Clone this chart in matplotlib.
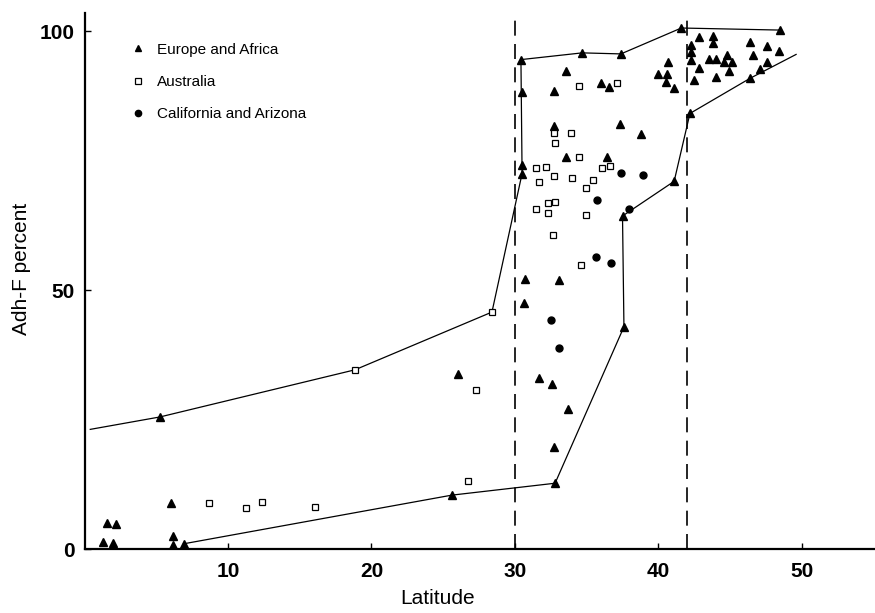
import matplotlib
matplotlib.use("Agg")
import matplotlib.pyplot as plt

plt.rcParams['font.family'] = ['Liberation Sans', 'DejaVu Sans']

# Europe and Africa (triangles)
eu_lat = [1.3, 2.0, 1.55, 2.2, 6.0, 6.15, 6.15, 6.9, 5.26,
          25.6, 26.0, 32.8, 31.67, 32.56, 33.7, 32.7, 30.7, 33.1, 30.65, 37.6, 37.5, 41.1,
          30.5, 30.5, 33.55, 36.4, 32.72, 37.3, 38.76, 30.47, 32.72, 35.99, 36.57, 33.55,
          30.42, 34.69, 37.39, 41.6, 40.64, 39.99, 40.57, 40.5, 41.1,
          48.5, 42.8, 43.8, 43.8, 42.25, 42.25, 42.25, 46.4, 47.6, 48.4, 46.6, 47.6, 47.1,
          46.4, 43.5, 44.0, 44.75, 44.6, 45.1, 42.8, 44.9, 42.5, 44.0, 42.2]
eu_pct = [1.4, 1.2, 5.1, 4.8, 8.9, 2.6, 0.8, 1.0, 25.5,
          10.4, 33.8, 12.7, 33.1, 31.9, 27.0, 19.7, 52.1, 51.9, 47.5, 42.9, 64.3, 71.0,
          72.5, 74.1, 75.7, 75.7, 81.7, 82.0, 80.1, 88.3, 88.4, 89.9, 89.3, 92.3,
          94.5, 95.8, 95.6, 100.6, 94.0, 91.7, 91.7, 90.2, 89.1,
          100.2, 98.8, 99.0, 97.7, 97.3, 96.0, 94.5, 97.9, 97.1, 96.2, 95.4, 94.1, 92.6,
          90.9, 94.7, 94.7, 95.4, 94.0, 94.0, 92.8, 92.3, 90.6, 91.1, 84.1]

# Australia (open squares)
au_lat = [8.7, 11.25, 12.4, 16.1, 18.85, 26.7, 27.3, 28.4,
          34.46, 37.1, 32.7, 32.8, 33.9, 34.5, 31.5, 32.2, 31.7, 32.7, 33.95, 36.1,
          36.6, 35.45, 34.95, 31.5, 32.3, 32.8, 32.3, 34.95, 32.67, 34.6]
au_pct = [8.8, 8.0, 9.1, 8.2, 34.6, 13.1, 30.7, 45.75,
          89.4, 89.9, 80.3, 78.4, 80.4, 75.7, 73.5, 73.8, 70.9, 72.1, 71.7, 73.6,
          74.0, 71.2, 69.8, 65.6, 66.9, 67.0, 64.8, 64.5, 60.6, 54.8]

# California and Arizona (filled circles)
ca_lat = [37.4, 38.9, 35.7, 37.94, 35.67, 36.67, 32.5, 33.1]
ca_pct = [72.7, 72.2, 67.4, 65.6, 56.4, 55.3, 44.3, 38.9]

# envelope lines
up_lat = [0.4, 5.26, 18.85, 28.4, 30.5, 30.42, 34.69, 37.39, 41.6, 48.5]
up_pct = [23.1, 25.5, 34.6, 45.75, 72.5, 94.5, 95.8, 95.6, 100.6, 100.2]
lo_lat = [6.9, 25.6, 32.8, 37.6, 37.5, 41.1, 42.2, 46.4, 49.6]
lo_pct = [1.0, 10.4, 12.7, 42.9, 64.3, 71.0, 84.1, 90.9, 95.5]

borders = [30, 42]

fig = plt.figure(figsize=(8.75, 6.13), dpi=100)
ax = fig.add_axes([0.0966, 0.1044, 0.9034, 0.8744])

ax.plot(up_lat, up_pct, color='black', lw=0.9, zorder=2)
ax.plot(lo_lat, lo_pct, color='black', lw=0.9, zorder=2)
for b in borders:
    ax.axvline(b, color='black', lw=1.2, ls=(0, (9, 5)), zorder=1)

ax.plot(eu_lat, eu_pct, ls='none', marker='^', ms=5.5, color='black',
        label='Europe and Africa', zorder=3)
ax.plot(au_lat, au_pct, ls='none', marker='s', ms=5, mfc='white', mec='black',
        mew=0.9, label='Australia', zorder=3)
ax.plot(ca_lat, ca_pct, ls='none', marker='o', ms=5, color='black',
        label='California and Arizona', zorder=3)

ax.set_xlim(0, 55.1)
ax.set_ylim(0, 103.5)
ax.spines['top'].set_visible(False)
ax.spines['right'].set_visible(False)
ax.spines['left'].set_linewidth(1.6)
ax.spines['bottom'].set_linewidth(1.6)

ax.set_xticks([10, 20, 30, 40, 50])
ax.set_yticks([0, 50, 100])
ax.tick_params(direction='in', length=4, width=1, labelsize=15, pad=9)
ax.tick_params(axis='y', pad=7)
for lab in ax.get_xticklabels() + ax.get_yticklabels():
    lab.set_fontweight('bold')

ax.set_xlabel('Latitude', fontsize=15)
ax.set_ylabel('Adh-F percent', fontsize=15)
ax.xaxis.set_label_coords(0.446, -0.074)
ax.yaxis.set_label_coords(-0.068, 0.522)

ax.legend(loc='upper left', bbox_to_anchor=(0.04, 0.97), frameon=False,
          fontsize=11, labelspacing=1.2, handletextpad=0.8, handlelength=1.0,
          markerscale=0.9)

fig.savefig('out.png', dpi=100)
